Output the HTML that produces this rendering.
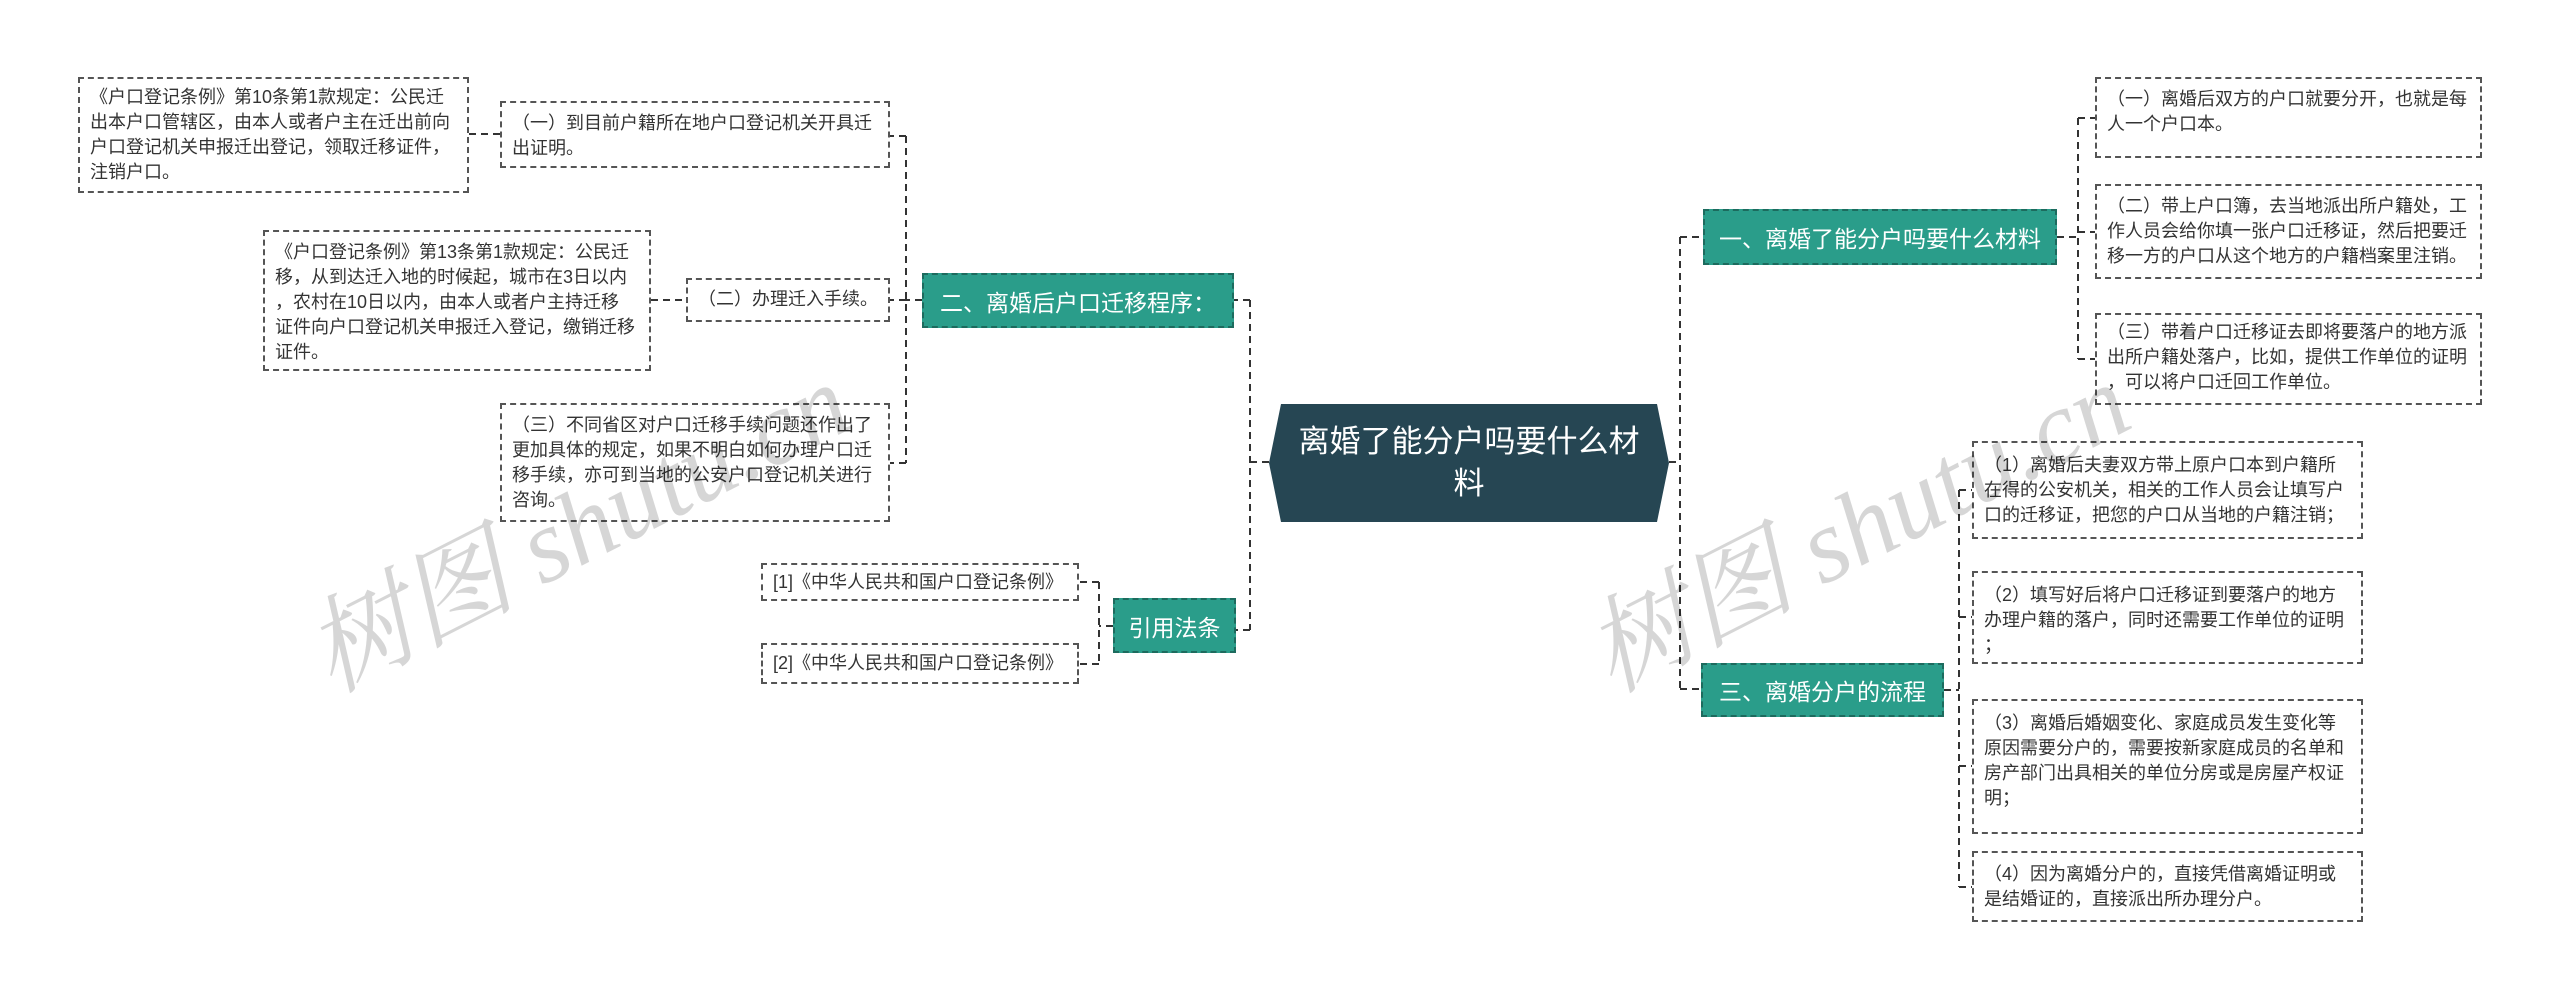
<!DOCTYPE html>
<html><head><meta charset="utf-8"><style>
body{margin:0;width:2560px;height:1001px;background:#fff;position:relative;overflow:hidden;font-family:"Liberation Sans","Noto Sans CJK SC",sans-serif;}
.b{position:absolute;box-sizing:border-box;border:2px dashed #555;background:#fff;color:#333;font-size:18px;line-height:25px;padding:8px 10px;white-space:nowrap;}
.t{position:absolute;box-sizing:border-box;background:#2a9d8a;color:#fff;border:2px dashed #1d6b5e;font-size:23px;display:flex;align-items:center;justify-content:center;white-space:nowrap;}
.wm{position:absolute;z-index:5;color:rgba(0,0,0,0.16);font-size:105px;line-height:130px;font-style:italic;font-family:"Liberation Serif","Noto Serif CJK SC",serif;white-space:nowrap;transform:rotate(-27deg);transform-origin:left bottom;}
</style></head><body>
<svg width="2560" height="1001" style="position:absolute;left:0;top:0" fill="none" stroke="#333" stroke-width="2" stroke-dasharray="7,5">
<path d="M1269 462 H1250 M1250 300 V630 M1250 300 H1234 M1250 630 H1236"/>
<path d="M922 300 H906 M906 136 V463 M906 136 H890 M906 300 H890 M906 463 H890"/>
<path d="M469 134 H500 M651 300 H686"/>
<path d="M1113 626 H1099 M1099 582 V664 M1099 582 H1079 M1099 664 H1079"/>
<path d="M1669 462 H1680 M1680 237 V689 M1680 237 H1703 M1680 689 H1701"/>
<path d="M2057 237 H2078 M2078 118 V359 M2078 118 H2095 M2078 232 H2095 M2078 359 H2095"/>
<path d="M1944 690 H1959 M1959 490 V887 M1959 490 H1972 M1959 617 H1972 M1959 766 H1972 M1959 887 H1972"/>
</svg>

<svg width="400" height="120" style="position:absolute;left:1269px;top:403px">
<polygon points="12,1 388,1 400,60 388,119 12,119 0,60" fill="#264653"/>
</svg>
<div style="position:absolute;left:1269px;top:403px;width:400px;height:120px;color:#fff;font-size:31px;line-height:42px;text-align:center;display:flex;align-items:center;justify-content:center;">离婚了能分户吗要什么材<br>料</div>

<div class="t" style="left:922px;top:273px;width:312px;height:55px">二、离婚后户口迁移程序：</div>
<div class="t" style="left:1113px;top:598px;width:123px;height:55px">引用法条</div>
<div class="t" style="left:1703px;top:209px;width:354px;height:56px">一、离婚了能分户吗要什么材料</div>
<div class="t" style="left:1701px;top:663px;width:243px;height:54px">三、离婚分户的流程</div>

<div class="b" style="left:78px;top:77px;width:391px;height:116px;padding-top:6px">《户口登记条例》第10条第1款规定：公民迁<br>出本户口管辖区，由本人或者户主在迁出前向<br>户口登记机关申报迁出登记，领取迁移证件，<br>注销户口。</div>
<div class="b" style="left:500px;top:101px;width:390px;height:67px">（一）到目前户籍所在地户口登记机关开具迁<br>出证明。</div>
<div class="b" style="left:263px;top:230px;width:388px;height:141px;padding-top:8px">《户口登记条例》第13条第1款规定：公民迁<br>移，从到达迁入地的时候起，城市在3日以内<br>，农村在10日以内，由本人或者户主持迁移<br>证件向户口登记机关申报迁入登记，缴销迁移<br>证件。</div>
<div class="b" style="left:686px;top:278px;width:204px;height:44px;padding-top:7px">（二）办理迁入手续。</div>
<div class="b" style="left:500px;top:403px;width:390px;height:119px;padding-top:8px">（三）不同省区对户口迁移手续问题还作出了<br>更加具体的规定，如果不明白如何办理户口迁<br>移手续，亦可到当地的公安户口登记机关进行<br>咨询。</div>
<div class="b" style="left:761px;top:563px;width:318px;height:38px;padding-top:5px">[1]《中华人民共和国户口登记条例》</div>
<div class="b" style="left:761px;top:643px;width:318px;height:41px;padding-top:6px">[2]《中华人民共和国户口登记条例》</div>

<div class="b" style="left:2095px;top:77px;width:387px;height:81px;padding-top:8px">（一）离婚后双方的户口就要分开，也就是每<br>人一个户口本。</div>
<div class="b" style="left:2095px;top:184px;width:387px;height:95px;padding-top:8px">（二）带上户口簿，去当地派出所户籍处，工<br>作人员会给你填一张户口迁移证，然后把要迁<br>移一方的户口从这个地方的户籍档案里注销。</div>
<div class="b" style="left:2095px;top:313px;width:387px;height:92px;padding-top:5px">（三）带着户口迁移证去即将要落户的地方派<br>出所户籍处落户，比如，提供工作单位的证明<br>，可以将户口迁回工作单位。</div>
<div class="b" style="left:1972px;top:441px;width:391px;height:98px;padding-top:10px">（1）离婚后夫妻双方带上原户口本到户籍所<br>在得的公安机关，相关的工作人员会让填写户<br>口的迁移证，把您的户口从当地的户籍注销；</div>
<div class="b" style="left:1972px;top:571px;width:391px;height:93px;padding-top:10px">（2）填写好后将户口迁移证到要落户的地方<br>办理户籍的落户，同时还需要工作单位的证明<br>；</div>
<div class="b" style="left:1972px;top:699px;width:391px;height:135px;padding-top:10px">（3）离婚后婚姻变化、家庭成员发生变化等<br>原因需要分户的，需要按新家庭成员的名单和<br>房产部门出具相关的单位分房或是房屋产权证<br>明；</div>
<div class="b" style="left:1972px;top:851px;width:391px;height:71px;padding-top:9px">（4）因为离婚分户的，直接凭借离婚证明或<br>是结婚证的，直接派出所办理分户。</div>

<div class="wm" style="left:345px;top:590px">树图 shutu.cn</div>
<div class="wm" style="left:1625px;top:590px">树图 shutu.cn</div>
</body></html>
